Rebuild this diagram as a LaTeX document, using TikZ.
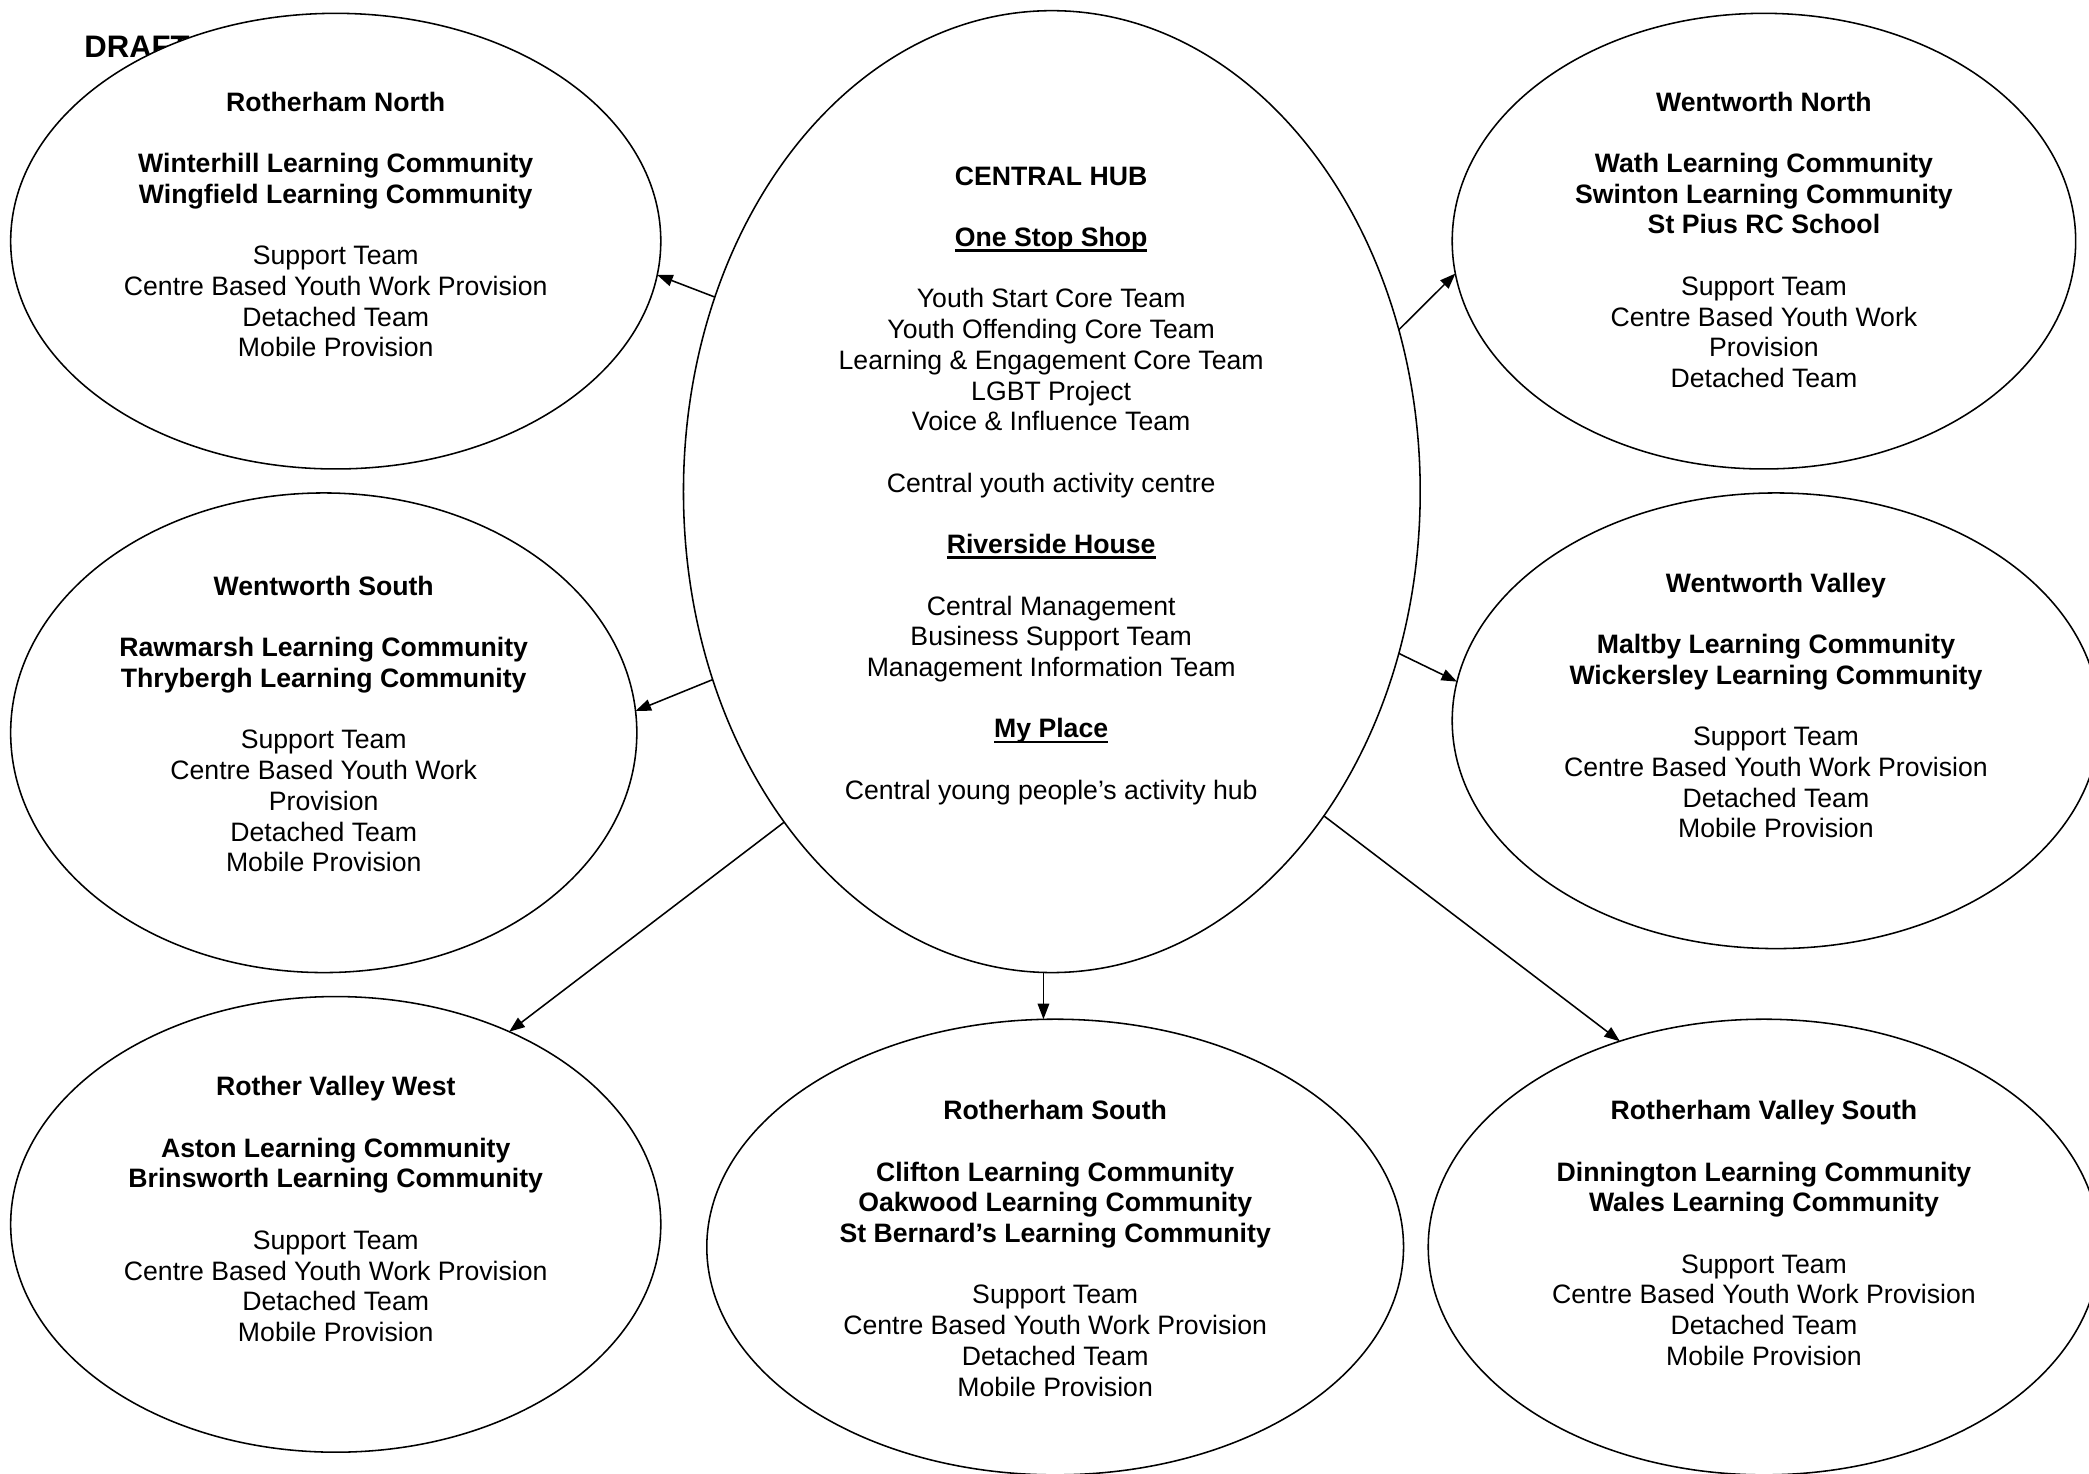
\documentclass[tikz,border=0pt]{standalone}
\usepackage{fontspec}
\setmainfont{Liberation Sans}
\usetikzlibrary{shapes.geometric,arrows.meta}
\tikzset{
  oval/.style={ellipse, draw, fill=white, inner sep=0pt, outer sep=0pt, line width=0.7pt},
  txt/.style={align=center, inner sep=0pt, font=\fontsize{12}{13.83}\selectfont},
  link/.style={-{Triangle[length=7pt,width=5.2pt]}, line width=0.7pt},
  drafttxt/.style={anchor=west, inner sep=0pt, font=\fontsize{14}{16}\selectfont\bfseries}
}
\newcommand{\gap}{\\[\baselineskip]}
\newcommand{\ulbf}[1]{{\setbox0\hbox{\textbf{#1}}\rlap{\rule[-2.4pt]{\wd0}{1.1pt}}\box0}}
\begin{document}
\begin{tikzpicture}[x=0.6pt,y=-0.6pt]
\useasboundingbox (0,0) rectangle (1568,1106);
\clip (0,0) rectangle (1568,1106);
\fill[white] (0,0) rectangle (1568,1106);

\node[drafttxt] (draft) at (63,35) {DRAFT};

% ellipses
\node[oval, minimum width=292.8pt, minimum height=205.2pt] (rn) at (252,181) {};
\node[oval, minimum width=280.8pt, minimum height=205.2pt] (wn) at (1324,181) {};
\node[oval, minimum width=282pt, minimum height=216pt] (ws) at (243,550) {};
\node[oval, minimum width=291.6pt, minimum height=205.2pt] (wv) at (1333,541) {};
\node[oval, minimum width=292.8pt, minimum height=205.2pt] (rvw) at (252,919) {};
\node[oval, minimum width=313.8pt, minimum height=205.2pt] (rs) at (792,936) {};
\node[oval, minimum width=302.4pt, minimum height=205.2pt] (rvs) at (1324,936) {};
\node[oval, minimum width=331.8pt, minimum height=433.2pt] (hub) at (789.5,369) {};

% texts
\node[txt] (rnt) at (252,168.5) {\textbf{Rotherham North}\gap
\textbf{Winterhill Learning Community}\\ \textbf{Wingfield Learning Community}\gap
Support Team\\ Centre Based Youth Work Provision\\ Detached Team\\ Mobile Provision};

\node[txt] (wnt) at (1324,180) {\textbf{Wentworth North}\gap
\textbf{Wath Learning Community}\\ \textbf{Swinton Learning Community}\\ \textbf{St Pius RC School}\gap
Support Team\\ Centre Based Youth Work\\ Provision\\ Detached Team};

\node[txt] (wst) at (243,543.5) {\textbf{Wentworth South}\gap
\textbf{Rawmarsh Learning Community}\\ \textbf{Thrybergh Learning Community}\gap
Support Team\\ Centre Based Youth Work\\ Provision\\ Detached Team\\ Mobile Provision};

\node[txt] (wvt) at (1333,529.5) {\textbf{Wentworth Valley}\gap
\textbf{Maltby Learning Community}\\ \textbf{Wickersley Learning Community}\gap
Support Team\\ Centre Based Youth Work Provision\\ Detached Team\\ Mobile Provision};

\node[txt] (rvwt) at (252,907.5) {\textbf{Rother Valley West}\gap
\textbf{Aston Learning Community}\\ \textbf{Brinsworth Learning Community}\gap
Support Team\\ Centre Based Youth Work Provision\\ Detached Team\\ Mobile Provision};

\node[txt] (rst) at (792,937) {\textbf{Rotherham South}\gap
\textbf{Clifton Learning Community}\\ \textbf{Oakwood Learning Community}\\ \textbf{St Bernard’s Learning Community}\gap
Support Team\\ Centre Based Youth Work Provision\\ Detached Team\\ Mobile Provision};

\node[txt] (rvst) at (1324,925.5) {\textbf{Rotherham Valley South}\gap
\textbf{Dinnington Learning Community}\\ \textbf{Wales Learning Community}\gap
Support Team\\ Centre Based Youth Work Provision\\ Detached Team\\ Mobile Provision};

\node[txt] (hubt) at (789,364.5) {\textbf{CENTRAL HUB}\gap
\ulbf{One Stop Shop}\gap
Youth Start Core Team\\ Youth Offending Core Team\\ Learning \& Engagement Core Team\\ LGBT Project\\ Voice \& Influence Team\gap
Central youth activity centre\gap
\ulbf{Riverside House}\gap
Central Management\\ Business Support Team\\ Management Information Team\gap
\ulbf{My Place}\gap
Central young people’s activity hub};

% connectors
\draw[link] (hub.150.8) -- (rn.-6.3);
\draw[link] (hub.25.5) -- (wn.186.3);
\draw[link] (hub.209.4) -- (ws.4.6);
\draw[link] (hub.-25.3) -- (wv.173.7);
\draw[link] (hub.231.2) -- (rvw.48.4);
\draw[link] (hub.269.1) -- (hub.269.1 |- rs.north);
\draw[link] (hub.-50.2) -- (rvs.125.2);
\end{tikzpicture}
\end{document}
